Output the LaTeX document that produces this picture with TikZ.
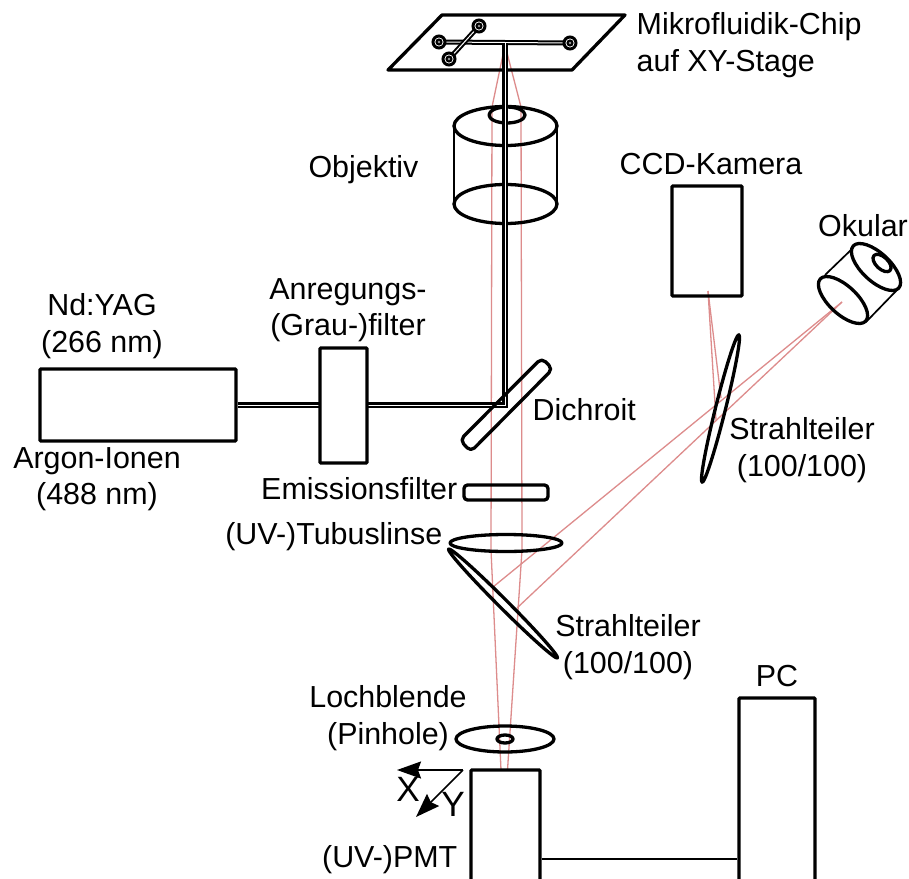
\documentclass[tikz,border=0pt]{standalone}
\usepackage{fontspec}
\setmainfont{Liberation Sans}
\usetikzlibrary{arrows.meta}
\tikzset{
    optic/.style={black, line width=.33mm, line join=round},
    thinoptic/.style={black, line width=.17mm},
    ray/.style={red!70!black!45!white, line width=.13mm},
    beam/.style={black, line width=.22mm, double=white, double distance=.1mm, line join=miter},
    channel/.style={black, line width=.2mm, double=white, double distance=.1mm},
    box/.style={draw=black, line width=.33mm, rounded corners=.3pt, inner sep=0pt, fill=white},
    label/.style={inner sep=0pt, font=\fontsize{8.65}{10.4}\selectfont},
    biglabel/.style={inner sep=0pt, font=\fontsize{10}{12}\selectfont},
    axis/.style={black, line width=.17mm, -{Stealth[length=2.4mm, width=1.7mm, inset=.3mm]}}
}
\begin{document}
\begin{tikzpicture}[x=.01cm, y=-.01cm]
    \useasboundingbox (0,0) rectangle (909,879);
    \clip (0,0) rectangle (909,879);
    \fill[white] (0,0) rectangle (909,879); % background
    \coordinate (Corner) at (505,405);
    \coordinate (Sample) at (505,43);
    \coordinate (Ocular) at (842,302);
    \coordinate (Camera) at (708,291);
    \coordinate (Origin) at (463,770);

    % rays
    \draw[ray] (505,45)--(492,107)--(491,550)--(501,770);
    \draw[ray] (505,45)--(521,107)--(522,550)--(507.5,770);
    \draw[ray] (493,587)--(Ocular);
    \draw[ray] (517,608)--(Ocular);
    \draw[ray] (Camera)--(716,420);
    \draw[ray] (Camera)--(721,398);

    % chip
    \draw[optic] (442,15)--(625,15)--(572,70)--(388,70)--cycle;
    \draw[channel] (439,42)--(570,43);
    \draw[channel] (479,26)--(449,59);
    \foreach \cx/\cy in {439/42, 570/43, 479/26, 449/59}{
        \draw[black, line width=.3mm, fill=white] (\cx,\cy) circle (6);
        \draw[black, line width=.2mm, fill=black!45] (\cx,\cy) circle (2.5);
    }

    % objective
    \draw[optic] (505.5,126) ellipse [x radius=51.5, y radius=19.5];
    \draw[optic] (505.5,204) ellipse [x radius=51.5, y radius=19.5];
    \draw[optic] (507,115) ellipse [x radius=18, y radius=8];
    \draw[thinoptic] (454,126)--(454,204) (557,126)--(557,204);

    % beam
    \node[box, minimum width=1.96cm, minimum height=.72cm] (Laser) at (138,405) {};
    \draw[beam] (Laser.east)--(Corner)--(Sample);
    \node[box, minimum width=.47cm, minimum height=1.15cm] (Filter) at (343.5,405.5) {};

    % optics in the lower path
    \draw[optic, rounded corners=1.5pt] (541.7,358)--(552.7,369)--(470.7,451.7)--(460,440)--cycle; % dichroic
    \draw[optic, rounded corners=1pt] (464,485) rectangle (548,500);
    \draw[optic] (506,543) ellipse [x radius=56, y radius=8.5];
    \draw[optic] (503,603.5) ellipse [x radius=77, y radius=4.5, rotate=-45];
    \draw[optic] (720.5,408.5) ellipse [x radius=76, y radius=5, rotate=76];
    \draw[optic] (505,739) ellipse [x radius=49, y radius=13];
    \draw[optic] (505,739) ellipse [x radius=8, y radius=4];

    % ocular
    \draw[optic] (843,300) ellipse [x radius=31, y radius=14, rotate=-43];
    \draw[optic] (876,267) ellipse [x radius=31, y radius=14, rotate=-43];
    \draw[optic] (882,263) ellipse [x radius=11, y radius=6, rotate=-43];
    \draw[thinoptic] (825,275)--(853,248) (866,322)--(897,290);

    % camera, detector, computer
    \node[box, fill=none, minimum width=.7cm, minimum height=1.1cm] (CCD) at (707,241) {};
    \node[box, fill=none, minimum width=.69cm, minimum height=1.78cm] (PMT) at (505.5,859) {};
    \node[box, fill=none, minimum width=.76cm, minimum height=3.22cm] (PC) at (777,859) {};
    \draw[optic, line width=.22mm] (PMT.east)--(PC.west);

    % stage axes
    \draw[axis] (Origin)--(397,770);
    \draw[axis] (Origin)--(416,817);

    % labels
    \node[label, anchor=west, align=left] (ChipText) at (636,45) {Mikrofluidik-Chip\\auf XY-Stage};
    \node[label] (ObjectiveText) at (363.5,170) {Objektiv};
    \node[label] (CCDText) at (711,164) {CCD-Kamera};
    \node[label] (OcularText) at (863,226) {Okular};
    \node[label, align=center] (YAGText) at (102,326) {Nd:YAG\\(266 nm)};
    \node[label, align=center] (FilterText) at (348,310) {Anregungs-\\(Grau-)filter};
    \node[label, align=center] (ArgonText) at (97,479) {Argon-Ionen\\(488 nm)};
    \node[label, anchor=west] (DichroicText) at (532,410) {Dichroit};
    \node[label, align=center] (SplitterTextA) at (802,450) {Strahlteiler\\(100/100)};
    \node[label, anchor=east] (EmissionText) at (458,489) {Emissionsfilter};
    \node[label, anchor=east] (TubeText) at (443,537) {(UV-)Tubuslinse};
    \node[label, align=center] (SplitterTextB) at (628,647) {Strahlteiler\\(100/100)};
    \node[label, align=center] (PinholeText) at (388,718) {Lochblende\\(Pinhole)};
    \node[label] (PCText) at (777,676) {PC};
    \node[label, anchor=east] (PMTText) at (458,860) {(UV-)PMT};
    \node[biglabel] (XText) at (408,789) {X};
    \node[biglabel] (YText) at (453,804) {Y};
\end{tikzpicture}
\end{document}
